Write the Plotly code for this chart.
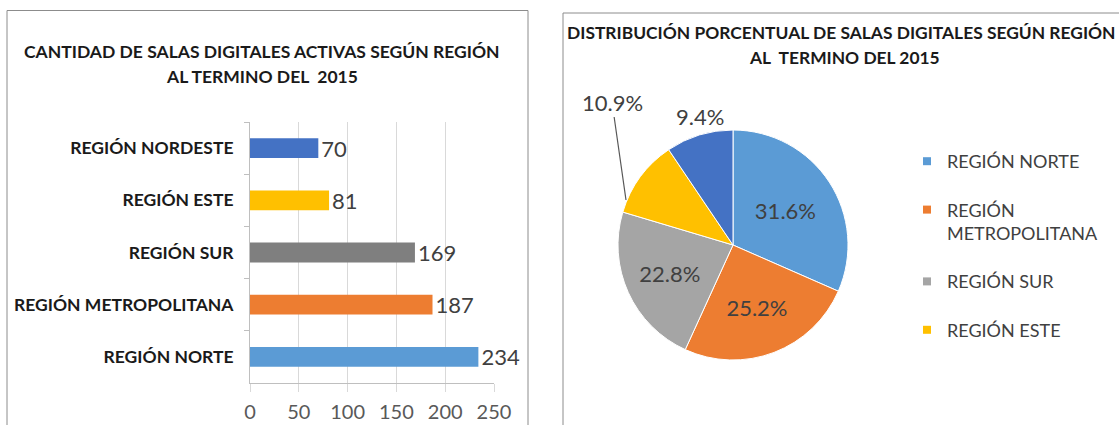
import plotly.graph_objects as go

# ---- data ----
categories = ["REGIÓN NORTE", "REGIÓN METROPOLITANA", "REGIÓN SUR", "REGIÓN ESTE", "REGIÓN NORDESTE"]
salas = [234, 187, 169, 81, 70]
x_ticks = [0, 50, 100, 150, 200, 250]
legend_names = ["REGIÓN NORTE", "REGIÓN<br>METROPOLITANA", "REGIÓN SUR", "REGIÓN ESTE"]

bar_colors = ["#5B9BD5", "#ED7D31", "#7F7F7F", "#FFC000", "#4472C4"]
pie_colors = ["#5B9BD5", "#ED7D31", "#A5A5A5", "#FFC000", "#4472C4"]

W, H = 1119, 425
FONT = "Lato"

def px_x(v):
    return v / W

def px_y(v):
    return 1 - v / H

total = sum(salas)
este_pct = salas[3] / total
nordeste_pct = salas[4] / total

fig = go.Figure()

fig.add_trace(go.Bar(
    x=salas, y=categories, orientation="h",
    marker=dict(color=bar_colors, line=dict(width=0)),
    text=[str(v) for v in salas], textposition="outside",
    textfont=dict(family=FONT, size=22, color="#404040"),
    constraintext="none", cliponaxis=False,
    showlegend=False, hoverinfo="skip",
    xaxis="x", yaxis="y",
))

fig.add_trace(go.Pie(
    labels=categories, values=salas, sort=False, direction="clockwise", rotation=0,
    marker=dict(colors=pie_colors, line=dict(color="white", width=1)),
    texttemplate="%{percent:.1%}",
    textposition=["inside", "inside", "inside", "none", "none"],
    insidetextorientation="horizontal",
    textfont=dict(family=FONT, size=22, color="#404040"),
    domain=dict(x=[px_x(618), px_x(848)], y=[px_y(360), px_y(130)]),
    showlegend=False, hoverinfo="skip",
))

# legend entries (first four regions, as in the reference)
for name, col in zip(legend_names, pie_colors[:4]):
    fig.add_trace(go.Scatter(
        x=[None], y=[None], mode="markers", name=name, legendgroup=name,
        marker=dict(symbol="square", size=8, color=col),
        xaxis="x", yaxis="y", hoverinfo="skip",
    ))

fig.update_layout(
    width=W, height=H,
    margin=dict(l=0, r=0, t=0, b=0, pad=0, autoexpand=False),
    paper_bgcolor="white", plot_bgcolor="white",
    font=dict(family=FONT, color="#404040"),
    xaxis=dict(
        domain=[px_x(250), px_x(494)], range=[0, 250],
        tickvals=x_ticks, ticks="outside", ticklen=8, tickcolor="#D9D9D9",
        showgrid=True, gridcolor="#D9D9D9", gridwidth=1,
        showline=True, linecolor="#BFBFBF", zeroline=False,
        tickfont=dict(family=FONT, size=20, color="#595959"),
        ticklabelstandoff=3, fixedrange=True, automargin=False,
    ),
    yaxis=dict(
        domain=[px_y(383), px_y(122)],
        categoryorder="array", categoryarray=categories,
        ticks="outside", tickson="boundaries", ticklen=5, tickcolor="#BFBFBF",
        showline=True, linecolor="#BFBFBF", showgrid=False,
        tickfont=dict(family=FONT, size=17.5, color="#1a1a1a", weight="bold"),
        ticklabelstandoff=12, fixedrange=True, automargin=False,
    ),
    bargap=0.62,
    legend=dict(
        x=px_x(907), y=px_y(143), xanchor="left", yanchor="top",
        font=dict(family=FONT, size=18, color="#404040"),
        traceorder="grouped", tracegroupgap=22, valign="top",
        itemwidth=30, bgcolor="rgba(0,0,0,0)",
    ),
    shapes=[
        dict(type="rect", xref="paper", yref="paper",
             x0=px_x(7), x1=px_x(528), y0=px_y(440), y1=px_y(10.5),
             line=dict(color="#8C8C8C", width=1)),
        dict(type="rect", xref="paper", yref="paper",
             x0=px_x(563), x1=px_x(1130), y0=px_y(440), y1=px_y(13),
             line=dict(color="#8C8C8C", width=1)),
    ],
    annotations=[
        dict(text="CANTIDAD DE SALAS DIGITALES ACTIVAS SEGÚN REGIÓN",
             xref="paper", yref="paper", x=px_x(262), y=px_y(52),
             xanchor="center", yanchor="middle", showarrow=False,
             font=dict(family=FONT, size=17.5, color="#1a1a1a", weight="bold")),
        dict(text="AL TERMINO DEL  2015",
             xref="paper", yref="paper", x=px_x(262), y=px_y(76),
             xanchor="center", yanchor="middle", showarrow=False,
             font=dict(family=FONT, size=17.5, color="#1a1a1a", weight="bold")),
        dict(text="DISTRIBUCIÓN PORCENTUAL DE SALAS DIGITALES SEGÚN REGIÓN",
             xref="paper", yref="paper", x=px_x(841), y=px_y(33),
             xanchor="center", yanchor="middle", showarrow=False,
             font=dict(family=FONT, size=17.4, color="#1a1a1a", weight="bold")),
        dict(text="AL  TERMINO DEL 2015",
             xref="paper", yref="paper", x=px_x(844), y=px_y(57),
             xanchor="center", yanchor="middle", showarrow=False,
             font=dict(family=FONT, size=17.4, color="#1a1a1a", weight="bold")),
        # label of the REGIÓN ESTE slice with its leader line
        dict(text=f"{este_pct:.1%}",
             xref="paper", yref="paper", x=px_x(626), y=px_y(200),
             ax=-14, ay=-98, showarrow=True, arrowhead=0, arrowwidth=1.2,
             arrowcolor="#595959",
             font=dict(family=FONT, size=22, color="#404040")),
        # label of the REGIÓN NORDESTE slice
        dict(text=f"{nordeste_pct:.1%}",
             xref="paper", yref="paper", x=px_x(700), y=px_y(116),
             xanchor="center", yanchor="middle", showarrow=False,
             font=dict(family=FONT, size=22, color="#404040")),
    ],
)

fig.write_html("out.html", config={"displayModeBar": False},
               post_script="document.body.style.margin='0';document.body.style.padding='0';")
